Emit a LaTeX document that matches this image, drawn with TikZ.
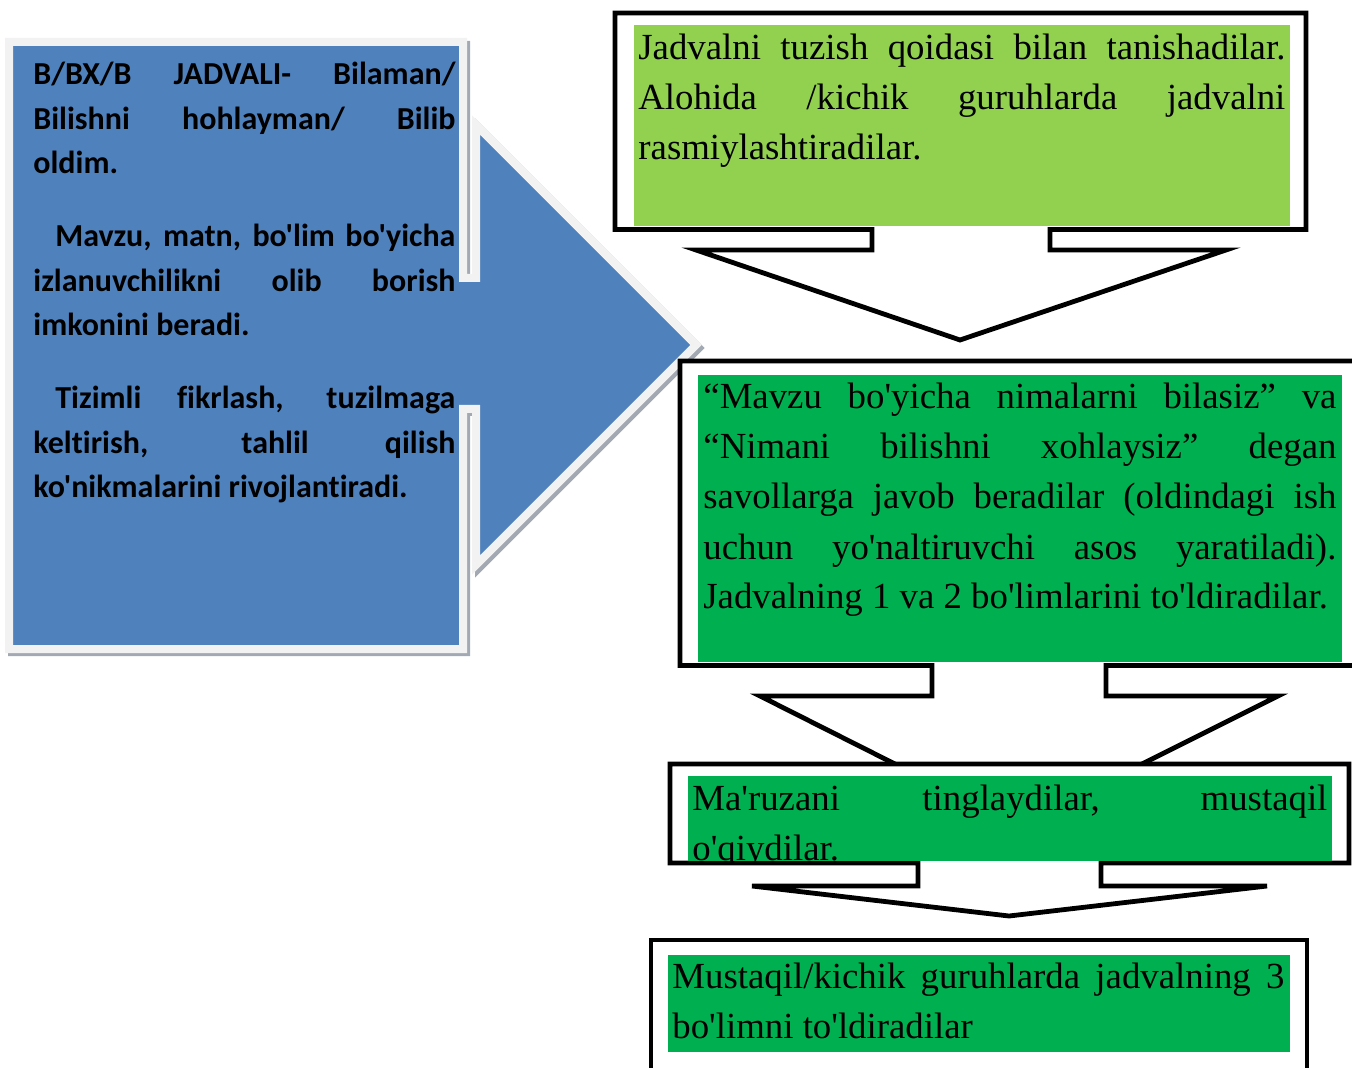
\documentclass[tikz,border=0pt]{standalone}
\usepackage{fontspec}
\newfontfamily\timesfont{Liberation Serif}[Ligatures=NoCommon]
\newfontfamily\calfont{Carlito}[Ligatures=NoCommon]
\definecolor{callblue}{HTML}{4F81BD}
\definecolor{callborder}{HTML}{F2F2F2}
\definecolor{callshade}{HTML}{A3A9B2}
\definecolor{lightgreen}{HTML}{92D050}
\definecolor{darkgreen}{HTML}{00B050}
\tolerance=10000 \hbadness=10000 \hyphenpenalty=10000 \exhyphenpenalty=10000
\tikzset{
	callarrow/.style={fill=callblue, draw=callborder, line width=4pt,
		preaction={draw=callshade, line width=4pt, transform canvas={shift={(1.5pt,-1.5pt)}}}},
	boxline/.style={draw=black, fill=white, line width=2.4pt},
	boxtext/.style={anchor=base west, inner sep=0pt, align=justify,
		font=\timesfont\fontsize{18.4}{25}\selectfont},
	lefttext/.style={anchor=base west, inner sep=0pt, align=justify, text width=211pt,
		font=\calfont\bfseries\fontsize{16}{22.25}\selectfont,
		execute at begin node={\setlength{\parskip}{14.25pt}}}
}

\begin{document}
\begin{tikzpicture}[x=0.5pt,y=-0.5pt]
	\useasboundingbox (0,0) rectangle (1352,1068);
	% left callout
	\draw[callarrow] (9,42) -- (463,42) -- (463,278) -- (476,278) -- (476,125) -- (696,345) -- (476,565) -- (476,409) -- (463,409) -- (463,649) -- (9,649) -- cycle;
	\node[lefttext] (bxb) at (33,85) {B/BX/B JADVALI- Bilaman/\linebreak Bilishni hohlayman/ Bilib\linebreak oldim.\par
		\hspace*{11pt}Mavzu, matn, bo'lim bo'yicha\linebreak izlanuvchilikni olib borish\linebreak imkonini beradi.\par
		\hspace*{11pt}Tizimli fikrlash, tuzilmaga\linebreak keltirish, tahlil qilish\linebreak ko'nikmalarini rivojlantiradi.};
	
	% right column
	\draw[boxline] (615,13) -- (1306,13) -- (1306,229.5) -- (1050,229.5) -- (1050,250) -- (1226,250) -- (960,340) -- (696,250) -- (872,250) -- (872,229.5) -- (615,229.5) -- cycle;
	\fill[lightgreen] (634,25) rectangle (1290,226);
	\node[boxtext, text width=323.5pt] (rules) at (638,60) {Jadvalni tuzish qoidasi bilan tanishadilar.\linebreak Alohida /kichik guruhlarda jadvalni\linebreak rasmiylashtiradilar.};
	
	\draw[boxline] (680,361) -- (1365,361) -- (1365,665.5) -- (1106,665.5) -- (1106,696) -- (1278,696) -- (1018,826) -- (760,696) -- (932,696) -- (932,665.5) -- (680,665.5) -- cycle;
	\fill[darkgreen] (698,375) rectangle (1342,662);
	\node[boxtext, text width=316.5pt] (questions) at (703,409) {“Mavzu bo'yicha nimalarni bilasiz” va\linebreak “Nimani bilishni xohlaysiz” degan\linebreak savollarga javob beradilar (oldindagi ish\linebreak uchun yo'naltiruvchi asos yaratiladi).\linebreak Jadvalning 1 va 2 bo'limlarini to'ldiradilar.};
	
	\draw[boxline] (670,764) -- (1349,764) -- (1349,863) -- (1101,863) -- (1101,886) -- (1267,886) -- (1009,916) -- (752,886) -- (918,886) -- (918,863) -- (670,863) -- cycle;
	\fill[darkgreen] (688,776) rectangle (1332,861);
	\begin{scope}
		\clip (688,776) rectangle (1332,861);
		\node[boxtext, text width=317.5pt] (lecture) at (692,810) {Ma'ruzani tinglaydilar, mustaqil\linebreak o'qiydilar.};
	\end{scope}
	
	\draw[boxline] (651,1095) -- (651,940) -- (1307,940) -- (1307,1095);
	\fill[darkgreen] (668,955) rectangle (1290,1052);
	\node[boxtext, text width=306pt] (groups) at (672,988) {Mustaqil/kichik guruhlarda jadvalning 3\linebreak bo'limni to'ldiradilar};
\end{tikzpicture}
\end{document}
